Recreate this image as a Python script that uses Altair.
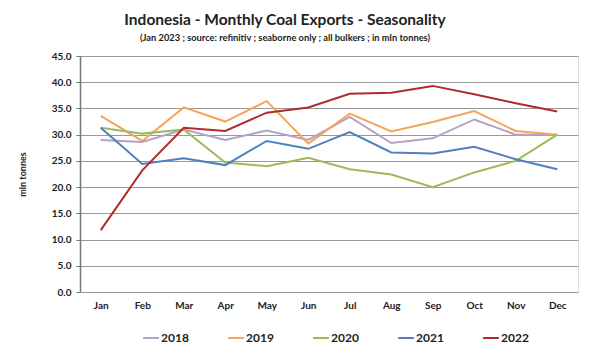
import altair as alt
import pandas as pd

months = ["Jan", "Feb", "Mar", "Apr", "May", "Jun", "Jul", "Aug", "Sep", "Oct", "Nov", "Dec"]
y2018 = [29.0, 28.6, 31.0, 29.0, 30.8, 29.0, 33.4, 28.4, 29.3, 32.9, 30.0, 30.0]
y2019 = [33.6, 28.8, 35.2, 32.5, 36.4, 28.3, 34.0, 30.6, 32.4, 34.5, 30.7, 30.0]
y2020 = [31.3, 30.2, 31.0, 24.7, 24.0, 25.6, 23.4, 22.4, 20.0, 22.8, 25.0, 30.0]
y2021 = [31.3, 24.4, 25.5, 24.2, 28.8, 27.3, 30.5, 26.6, 26.4, 27.7, 25.3, 23.4]
y2022 = [11.8, 23.2, 31.3, 30.7, 34.2, 35.2, 37.8, 38.0, 39.3, 37.7, 36.0, 34.4]
series_names = ["2018", "2019", "2020", "2021", "2022"]
series_colors = ["#b3a2c7", "#f5a55a", "#9bbb59", "#4f81bd", "#b22a2e"]

rows = []
for name, vals in zip(series_names, [y2018, y2019, y2020, y2021, y2022]):
    for m, v in zip(months, vals):
        rows.append({"month": m, "year": name, "value": v})
df = pd.DataFrame(rows)

FONT = "Lato"

chart = alt.Chart(df).mark_line(strokeWidth=2).encode(
    x=alt.X("month:O", sort=months,
            scale=alt.Scale(type="point", padding=0.5),
            axis=alt.Axis(title=None, labelAngle=0, ticks=False, domain=False,
                          labelFont=FONT, labelFontWeight="bold", labelFontSize=10,
                          labelColor="#222", labelPadding=8, grid=False)),
    y=alt.Y("value:Q",
            scale=alt.Scale(domain=[0, 45], nice=False),
            axis=alt.Axis(title="mln tonnes", values=[0, 5, 10, 15, 20, 25, 30, 35, 40, 45],
                          format=".1f", labelFont=FONT, labelFontWeight="bold",
                          labelFontSize=10, labelColor="#222", labelPadding=5,
                          tickSize=4, tickColor="#777", domainColor="#777",
                          domainWidth=1.5, gridColor="#999", gridWidth=1,
                          titleFont=FONT, titleFontWeight="bold", titleFontSize=9,
                          titleColor="#222", titlePadding=24)),
    color=alt.Color("year:N", sort=series_names,
                    scale=alt.Scale(domain=series_names, range=series_colors),
                    legend=alt.Legend(title=None, orient="none", direction="horizontal",
                                      legendX=62, legendY=273,
                                      symbolType="stroke", symbolSize=250,
                                      symbolStrokeWidth=2, columnPadding=35,
                                      labelFont=FONT, labelFontWeight="bold",
                                      labelFontSize=12, labelColor="#222",
                                      labelOffset=1)),
).properties(
    width=498,
    height=236,
    padding={"left": 10, "top": 5, "right": 5, "bottom": 5},
    title=alt.TitleParams(
        text="Indonesia - Monthly Coal Exports - Seasonality",
        subtitle="(Jan 2023 ; source: refinitiv ; seaborne only ; all bulkers ; in mln tonnes)",
        anchor="middle", dx=-44, font=FONT, fontSize=15.5, fontWeight="bold", color="#222",
        subtitleFont=FONT, subtitleFontSize=9.3, subtitleFontWeight="bold",
        subtitleColor="#222", subtitlePadding=5, offset=8,
    ),
).configure_view(stroke="#999", strokeWidth=1).configure(background="white")

chart.save("out.html", embed_options={"renderer": "svg", "actions": False})
